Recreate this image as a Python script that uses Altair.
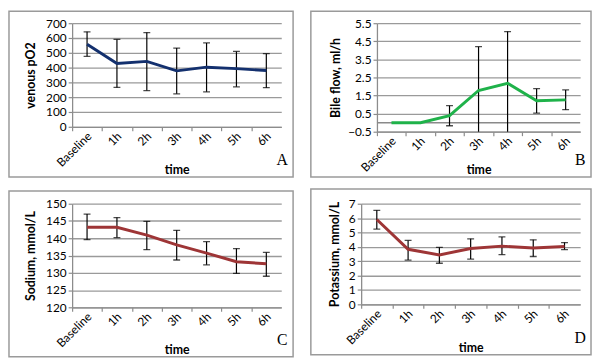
import altair as alt
import pandas as pd

cats = ["Baseline", "1h", "2h", "3h", "4h", "5h", "6h"]

po2_mean = [558, 427, 442, 378, 403, 393, 380]
po2_lo = [476, 266, 245, 223, 236, 270, 264]
po2_hi = [642, 590, 637, 532, 567, 509, 494]

bile_mean = [0.0, 0.0, 0.39, 1.78, 2.18, 1.21, 1.26]
bile_lo = [None, None, -0.17, -0.64, -0.68, 0.53, 0.72]
bile_hi = [None, None, 0.94, 4.20, 5.04, 1.88, 1.81]

na_mean = [143.2, 143.2, 140.9, 138.1, 135.7, 133.2, 132.6]
na_lo = [139.6, 140.2, 136.7, 133.7, 132.3, 129.8, 129.0]
na_hi = [147.0, 146.0, 144.9, 142.3, 139.0, 137.0, 135.9]

k_mean = [5.90, 3.83, 3.44, 3.88, 4.05, 3.92, 4.03]
k_lo = [5.24, 3.08, 2.86, 3.15, 3.46, 3.33, 3.81]
k_hi = [6.54, 4.45, 3.96, 4.56, 4.69, 4.49, 4.30]

po2_ticks = [0, 100, 200, 300, 400, 500, 600, 700]
bile_ticks = [-0.5, 0.5, 1.5, 2.5, 3.5, 4.5, 5.5]
na_ticks = [120, 125, 130, 135, 140, 145, 150]
k_ticks = [0, 1, 2, 3, 4, 5, 6, 7]

NAVY = "#13306e"
GREEN = "#1fb24a"
RED = "#9e3536"
GRAY = "#9a9a9a"


def panel(mean, lo, hi, ytitle, dom, ticks, fmt, color, letter,
          W, H, L, T, R, B, ytx, xty, zero=False):
    df = pd.DataFrame({"time": cats, "mean": mean, "lo": lo, "hi": hi})
    one = alt.Data(values=[{"a": 1}])
    step = W / len(cats)
    xs = alt.Scale(type="point", padding=0.5, domain=cats)
    xax = alt.Axis(title="time", labelAngle=-45, labelAlign="right",
                   labelBaseline="middle", tickOffset=-step / 2,
                   labelOffset=step / 2 + 2, grid=False,
                   titleX=W / 2, titleY=xty, titleBaseline="middle",
                   labelPadding=3)
    ys = alt.Scale(domain=dom, nice=False, zero=False)
    yax = alt.Axis(title=ytitle, values=ticks, format=fmt, grid=True,
                   titleX=-ytx, titleY=H / 2, titleAngle=270,
                   titleBaseline="middle")
    x = alt.X("time:N", scale=xs, axis=xax, sort=cats)

    def y(f):
        return alt.Y(f + ":Q", scale=ys, axis=yax)

    frame = alt.Chart(one).mark_rect(fillOpacity=0, stroke=GRAY, strokeWidth=1.5).encode(
        x=alt.value(-L), x2=alt.value(W + R), y=alt.value(-T), y2=alt.value(H + B))
    layers = [frame]
    if zero:
        zdf = pd.DataFrame({"z": [0.0]})
        layers.append(alt.Chart(zdf).mark_rule(color="#8a8a8a", strokeWidth=1.5).encode(y=y("z")))
    base = alt.Chart(df)
    rule = base.mark_rule(color="black", strokeWidth=1.2, clip=True).encode(
        x=x, y=y("lo"), y2=alt.Y2("hi"))
    tlo = base.mark_tick(color="black", size=7, thickness=1.3, clip=True).encode(x=x, y=y("lo"))
    thi = base.mark_tick(color="black", size=7, thickness=1.3, clip=True).encode(x=x, y=y("hi"))
    line = base.mark_line(color=color, strokeWidth=3).encode(x=x, y=y("mean"))
    txt = alt.Chart(one).mark_text(text=letter, font="Liberation Serif", fontSize=16,
                                   align="center", baseline="alphabetic", color="black").encode(
        x=alt.value(W + R - 11), y=alt.value(H + B - 12))
    layers += [rule, tlo, thi, line, txt]
    return alt.layer(*layers).properties(width=W, height=H)


pa = panel(po2_mean, po2_lo, po2_hi, "venous pO2", [0, 700], po2_ticks, "d", NAVY, "A",
           212, 105, 64, 12, 12, 51, 42, 43)
pb = panel(bile_mean, bile_lo, bile_hi, "Bile flow, ml/h", [-0.5, 5.5], bile_ticks, ".1f", GREEN, "B",
           206, 110, 67, 12, 11, 46, 42, 38, zero=True)
pc = panel(na_mean, na_lo, na_hi, "Sodium, mmol/L", [120, 150], na_ticks, "d", RED, "C",
           212, 105, 64, 13, 12, 50, 42, 43)
pd_ = panel(k_mean, k_lo, k_hi, "Potassium, mmol/L", [0, 7], k_ticks, "d", RED, "D",
            222, 102, 51, 15, 11, 51, 27, 44)

chart = alt.vconcat(
    alt.hconcat(pa, pb, spacing=16),
    alt.hconcat(pc, pd_, spacing=16),
    spacing=10,
).properties(padding=0, background="white").configure_view(strokeWidth=0).configure_axis(
    labelFont="Lato", titleFont="Lato", labelFontSize=12, titleFontSize=12.5,
    titleFontWeight="bold", labelColor="black", titleColor="black",
    domainColor="#8c8c8c", tickColor="#8c8c8c", gridColor=GRAY, gridWidth=1.3,
    domainWidth=1.3, tickWidth=1.2, tickSize=4, labelPadding=2,
)

chart.save("out.html", embed_options={"renderer": "svg", "actions": False})
